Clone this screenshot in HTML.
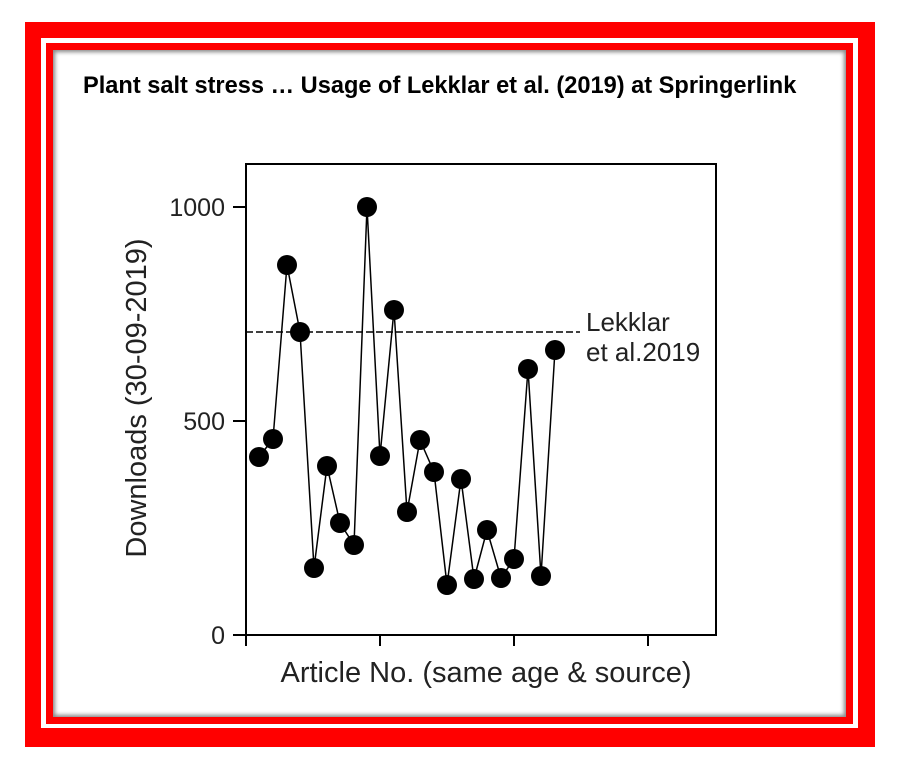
<!DOCTYPE html>
<html><head><style>
body{margin:0;width:897px;height:768px;background:#fff;overflow:hidden;position:relative;font-family:"Liberation Sans",sans-serif}
.a{position:absolute}
</style></head><body>
<div class="a" style="left:25px;top:22px;width:850px;height:725px;background:#f00"></div>
<div class="a" style="left:41px;top:38px;width:817px;height:690px;background:#fff"></div>
<div class="a" style="left:46px;top:43px;width:807px;height:681px;background:#f00"></div>
<div class="a" style="left:53px;top:50px;width:793px;height:667px;background:#fff;box-shadow:inset 2px 2px 4px #888,inset -2px -2px 4px #888"></div>
<div class="a" style="left:83px;top:73px;font-weight:bold;font-size:23.6px;color:#000;white-space:nowrap">Plant salt stress … Usage of Lekklar et al. (2019) at Springerlink</div>
<svg class="a" style="left:0;top:0" width="897" height="768">
<g stroke="#000" stroke-width="2" fill="none">
<rect x="246" y="164" width="470" height="471"/>
<line x1="233" y1="207" x2="246" y2="207"/><line x1="233" y1="421" x2="246" y2="421"/><line x1="233" y1="635" x2="246" y2="635"/>
<line x1="246" y1="635" x2="246" y2="646"/><line x1="380" y1="635" x2="380" y2="646"/><line x1="514" y1="635" x2="514" y2="646"/><line x1="648" y1="635" x2="648" y2="646"/>
</g>
<line x1="246" y1="332" x2="580" y2="332" stroke="#000" stroke-width="1.5" stroke-dasharray="7,3"/>
<polyline fill="none" stroke="#000" stroke-width="1.5" points="259,457 273,439 287,265 300,332 314,568 327,466 340,523 354,545 367,207 380,456 394,310 407,512 420,440 434,472 447,585 461,479 474,579 487,530 501,578 514,559 528,369 541,576 555,350"/>
<g fill="#000">
<circle cx="259" cy="457" r="10"/><circle cx="273" cy="439" r="10"/><circle cx="287" cy="265" r="10"/><circle cx="300" cy="332" r="10"/><circle cx="314" cy="568" r="10"/><circle cx="327" cy="466" r="10"/><circle cx="340" cy="523" r="10"/><circle cx="354" cy="545" r="10"/><circle cx="367" cy="207" r="10"/><circle cx="380" cy="456" r="10"/><circle cx="394" cy="310" r="10"/><circle cx="407" cy="512" r="10"/><circle cx="420" cy="440" r="10"/><circle cx="434" cy="472" r="10"/><circle cx="447" cy="585" r="10"/><circle cx="461" cy="479" r="10"/><circle cx="474" cy="579" r="10"/><circle cx="487" cy="530" r="10"/><circle cx="501" cy="578" r="10"/><circle cx="514" cy="559" r="10"/><circle cx="528" cy="369" r="10"/><circle cx="541" cy="576" r="10"/><circle cx="555" cy="350" r="10"/>
</g>
<g font-family="Liberation Sans, sans-serif" font-size="25" fill="#222" text-anchor="end">
<text x="225" y="216">1000</text><text x="225" y="430">500</text><text x="225" y="644">0</text>
</g>
<text x="586" y="331" font-family="Liberation Sans, sans-serif" font-size="26" fill="#222">Lekklar</text>
<text x="586" y="361" font-family="Liberation Sans, sans-serif" font-size="26" fill="#222">et al.2019</text>
<text x="486" y="682" text-anchor="middle" font-family="Liberation Sans, sans-serif" font-size="29" fill="#222">Article No. (same age &amp; source)</text>
<text transform="translate(146,398) rotate(-90)" text-anchor="middle" font-family="Liberation Sans, sans-serif" font-size="29" fill="#222">Downloads (30-09-2019)</text>
</svg>
</body></html>
